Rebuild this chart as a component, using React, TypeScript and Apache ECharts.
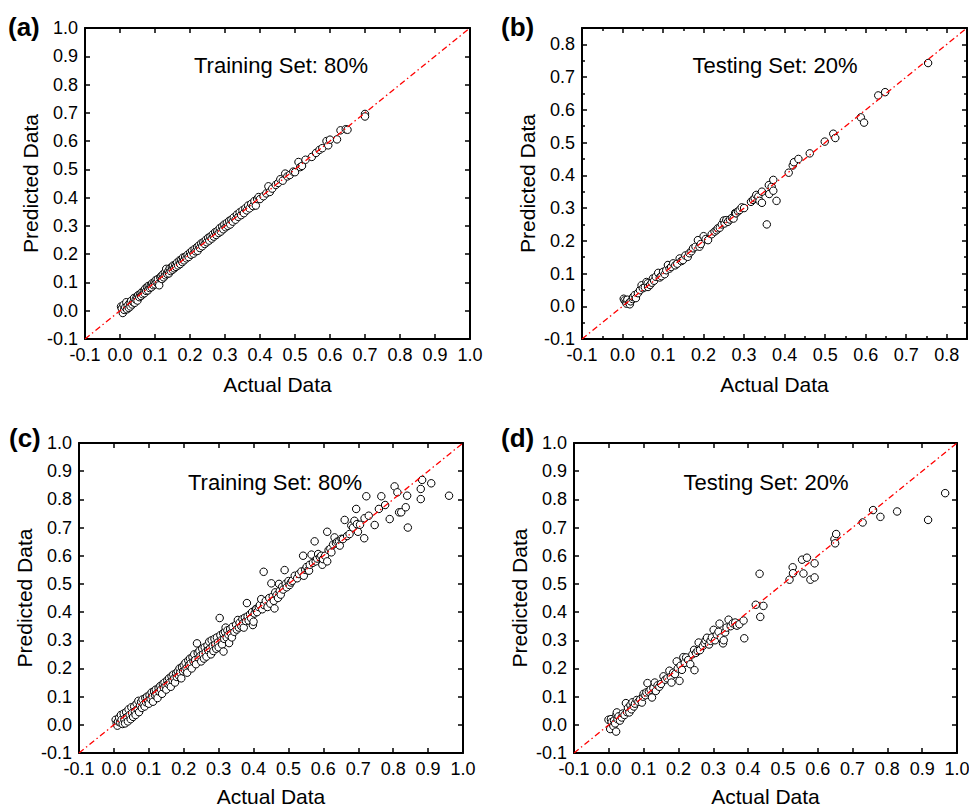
import React, { useEffect, useRef } from "react";
import * as echarts from "echarts";

// ---------- data ----------
const trainA: number[][] = [
  [0.003,0.015],[0.005,0.008],[0.008,-0.008],[0.01,0.02],[0.012,0.003],[0.015,0.012],[0.018,0.03],[0.02,0.005],[0.022,0.018],[0.025,0.01],
  [0.028,0.028],[0.03,0.015],[0.032,0.035],[0.035,0.022],[0.038,0.03],[0.04,0.045],[0.042,0.028],[0.045,0.04],[0.048,0.05],[0.05,0.036],
  [0.052,0.055],[0.055,0.048],[0.058,0.06],[0.06,0.052],[0.062,0.065],[0.065,0.058],[0.068,0.07],[0.07,0.062],[0.072,0.078],[0.075,0.07],
  [0.078,0.085],[0.08,0.072],[0.082,0.088],[0.085,0.08],[0.088,0.09],[0.09,0.083],[0.092,0.097],[0.095,0.09],[0.098,0.1],[0.1,0.093],
  [0.102,0.108],[0.105,0.1],[0.108,0.112],[0.11,0.095],[0.112,0.09],[0.115,0.118],[0.118,0.122],[0.12,0.112],[0.122,0.128],[0.125,0.118],
  [0.128,0.135],[0.13,0.125],[0.132,0.148],[0.135,0.13],[0.138,0.14],[0.14,0.132],[0.142,0.15],[0.145,0.14],[0.148,0.155],[0.15,0.145],
  [0.152,0.16],[0.155,0.15],[0.158,0.162],[0.16,0.155],[0.163,0.17],[0.166,0.16],[0.17,0.178],[0.172,0.165],[0.175,0.18],[0.178,0.172],
  [0.18,0.188],[0.183,0.178],[0.186,0.19],[0.19,0.185],[0.193,0.198],[0.196,0.19],[0.2,0.205],[0.203,0.198],[0.206,0.212],[0.21,0.202],
  [0.213,0.218],[0.216,0.21],[0.22,0.225],[0.222,0.212],[0.225,0.23],[0.228,0.222],[0.232,0.238],[0.235,0.228],[0.238,0.242],[0.242,0.236],
  [0.245,0.25],[0.248,0.242],[0.252,0.258],[0.255,0.248],[0.258,0.262],[0.262,0.255],[0.265,0.27],[0.268,0.262],[0.272,0.278],[0.275,0.268],
  [0.278,0.282],[0.282,0.275],[0.285,0.292],[0.288,0.28],[0.292,0.298],[0.295,0.288],[0.298,0.305],[0.302,0.295],[0.305,0.31],[0.308,0.3],
  [0.312,0.318],[0.315,0.305],[0.318,0.322],[0.322,0.315],[0.325,0.33],[0.33,0.322],[0.334,0.34],[0.338,0.332],[0.342,0.348],[0.346,0.338],
  [0.35,0.355],[0.354,0.345],[0.358,0.362],[0.362,0.355],[0.366,0.372],[0.37,0.362],[0.375,0.378],[0.38,0.37],[0.384,0.388],[0.388,0.372],
  [0.392,0.395],[0.396,0.402],[0.4,0.395],[0.41,0.405],[0.418,0.415],[0.424,0.44],[0.428,0.42],[0.435,0.432],[0.445,0.445],[0.452,0.452],
  [0.458,0.465],[0.465,0.46],[0.472,0.485],[0.478,0.475],[0.485,0.48],[0.495,0.492],[0.5,0.49],[0.51,0.526],[0.515,0.508],[0.52,0.512],
  [0.53,0.534],[0.548,0.544],[0.56,0.558],[0.57,0.569],[0.578,0.575],[0.59,0.6],[0.595,0.585],[0.6,0.605],[0.62,0.606],[0.63,0.638],
  [0.645,0.642],[0.65,0.64],[0.7,0.696],[0.7,0.687]
];

const testB: number[][] = [
  [0.003,0.023],[0.005,0.018],[0.008,0.013],[0.01,0.008],[0.012,0.02],[0.016,0.01],[0.018,0.006],[0.02,0.015],[0.025,0.022],[0.026,0.028],
  [0.03,0.034],[0.033,0.025],[0.038,0.04],[0.043,0.049],[0.047,0.064],[0.05,0.055],[0.055,0.058],[0.059,0.074],[0.062,0.07],[0.063,0.059],
  [0.068,0.065],[0.072,0.072],[0.075,0.085],[0.078,0.078],[0.082,0.09],[0.088,0.102],[0.092,0.088],[0.096,0.092],[0.1,0.105],[0.104,0.098],
  [0.108,0.11],[0.112,0.126],[0.116,0.115],[0.12,0.12],[0.125,0.131],[0.13,0.125],[0.135,0.13],[0.141,0.146],[0.145,0.138],[0.149,0.141],
  [0.155,0.155],[0.161,0.151],[0.165,0.162],[0.17,0.168],[0.174,0.177],[0.18,0.182],[0.186,0.202],[0.19,0.182],[0.193,0.19],[0.2,0.214],
  [0.205,0.205],[0.211,0.202],[0.22,0.22],[0.227,0.228],[0.232,0.232],[0.235,0.238],[0.24,0.24],[0.245,0.25],[0.25,0.262],[0.252,0.253],
  [0.256,0.263],[0.26,0.258],[0.265,0.265],[0.27,0.27],[0.274,0.268],[0.278,0.285],[0.28,0.284],[0.285,0.29],[0.289,0.294],[0.294,0.302],
  [0.3,0.3],[0.317,0.319],[0.322,0.325],[0.326,0.33],[0.33,0.34],[0.335,0.335],[0.338,0.322],[0.344,0.35],[0.344,0.316],[0.356,0.25],
  [0.361,0.37],[0.362,0.343],[0.368,0.365],[0.372,0.386],[0.372,0.353],[0.38,0.322],[0.41,0.408],[0.42,0.43],[0.423,0.44],[0.434,0.45],
  [0.462,0.467],[0.499,0.503],[0.52,0.527],[0.525,0.514],[0.588,0.577],[0.596,0.561],[0.631,0.644],[0.648,0.654],[0.754,0.743]
];

const trainC: number[][] = [
  [0.005,0.018],[0.008,0.005],[0.01,-0.003],[0.012,0.012],[0.015,0.025],[0.018,0.008],[0.02,0.035],[0.022,0.018],[0.025,0.003],[0.028,0.04],
  [0.03,0.02],[0.032,0.005],[0.035,0.045],[0.038,0.028],[0.04,0.012],[0.042,0.055],[0.045,0.035],[0.048,0.02],[0.05,0.062],[0.052,0.042],
  [0.055,0.028],[0.058,0.065],[0.06,0.048],[0.062,0.035],[0.065,0.075],[0.068,0.055],[0.07,0.085],[0.072,0.045],[0.075,0.068],[0.078,0.082],
  [0.08,0.06],[0.082,0.09],[0.085,0.072],[0.088,0.065],[0.09,0.095],[0.092,0.08],[0.095,0.1],[0.098,0.085],[0.1,0.075],[0.102,0.105],
  [0.105,0.092],[0.108,0.115],[0.11,0.1],[0.112,0.082],[0.115,0.12],[0.118,0.105],[0.12,0.125],[0.122,0.11],[0.125,0.095],[0.128,0.13],
  [0.13,0.118],[0.133,0.138],[0.135,0.125],[0.138,0.11],[0.14,0.145],[0.143,0.132],[0.145,0.15],[0.148,0.138],[0.15,0.125],[0.153,0.158],
  [0.156,0.145],[0.158,0.165],[0.16,0.15],[0.163,0.135],[0.165,0.172],[0.168,0.158],[0.17,0.178],[0.173,0.165],[0.175,0.15],[0.178,0.182],
  [0.18,0.17],[0.183,0.19],[0.186,0.175],[0.188,0.2],[0.19,0.185],[0.193,0.165],[0.195,0.205],[0.198,0.19],[0.2,0.212],[0.203,0.195],
  [0.205,0.22],[0.208,0.2],[0.21,0.185],[0.213,0.228],[0.215,0.212],[0.218,0.235],[0.22,0.218],[0.223,0.2],[0.225,0.24],[0.228,0.225],
  [0.23,0.25],[0.233,0.23],[0.235,0.215],[0.238,0.289],[0.24,0.255],[0.243,0.238],[0.245,0.262],[0.248,0.245],[0.25,0.225],[0.253,0.27],
  [0.255,0.25],[0.258,0.235],[0.26,0.275],[0.263,0.258],[0.265,0.242],[0.268,0.282],[0.27,0.265],[0.273,0.295],[0.275,0.27],[0.278,0.25],
  [0.28,0.3],[0.283,0.28],[0.285,0.262],[0.288,0.305],[0.29,0.285],[0.293,0.27],[0.295,0.31],[0.298,0.292],[0.3,0.275],[0.303,0.379],
  [0.305,0.318],[0.308,0.3],[0.31,0.285],[0.313,0.325],[0.314,0.26],[0.316,0.305],[0.318,0.33],[0.32,0.345],[0.323,0.31],[0.325,0.335],
  [0.328,0.32],[0.33,0.29],[0.333,0.34],[0.335,0.325],[0.338,0.31],[0.34,0.348],[0.345,0.33],[0.35,0.355],[0.352,0.338],[0.355,0.372],
  [0.358,0.345],[0.36,0.362],[0.365,0.35],[0.368,0.375],[0.37,0.36],[0.372,0.345],[0.375,0.38],[0.378,0.368],[0.381,0.432],[0.383,0.385],
  [0.386,0.37],[0.39,0.392],[0.393,0.378],[0.396,0.4],[0.398,0.354],[0.4,0.366],[0.403,0.395],[0.406,0.41],[0.408,0.411],[0.41,0.4],
  [0.415,0.418],[0.418,0.425],[0.422,0.446],[0.425,0.41],[0.429,0.543],[0.43,0.425],[0.435,0.44],[0.44,0.418],[0.445,0.45],[0.448,0.43],
  [0.451,0.502],[0.455,0.455],[0.458,0.44],[0.46,0.413],[0.462,0.47],[0.466,0.46],[0.47,0.45],[0.473,0.5],[0.475,0.475],[0.478,0.462],
  [0.482,0.49],[0.485,0.48],[0.489,0.549],[0.492,0.5],[0.495,0.488],[0.5,0.51],[0.503,0.496],[0.507,0.505],[0.511,0.511],[0.518,0.529],
  [0.525,0.52],[0.53,0.535],[0.537,0.544],[0.542,0.6],[0.544,0.529],[0.548,0.55],[0.552,0.56],[0.556,0.548],[0.559,0.547],[0.561,0.568],
  [0.566,0.604],[0.57,0.575],[0.575,0.651],[0.578,0.58],[0.582,0.59],[0.585,0.606],[0.59,0.595],[0.594,0.6],[0.597,0.568],[0.599,0.588],
  [0.605,0.6],[0.611,0.685],[0.611,0.58],[0.615,0.62],[0.62,0.625],[0.623,0.612],[0.628,0.64],[0.632,0.665],[0.636,0.645],[0.64,0.65],
  [0.645,0.651],[0.647,0.636],[0.652,0.66],[0.656,0.659],[0.661,0.727],[0.668,0.67],[0.675,0.677],[0.68,0.707],[0.685,0.7],[0.689,0.724],
  [0.694,0.766],[0.696,0.712],[0.699,0.685],[0.705,0.71],[0.717,0.662],[0.718,0.733],[0.723,0.811],[0.73,0.742],[0.747,0.709],[0.759,0.766],
  [0.766,0.811],[0.777,0.78],[0.79,0.73],[0.804,0.846],[0.812,0.825],[0.817,0.754],[0.823,0.754],[0.836,0.772],[0.84,0.813],[0.842,0.7],
  [0.879,0.801],[0.879,0.837],[0.883,0.869],[0.909,0.857],[0.96,0.813]
];

const testD: number[][] = [
  [-0.001,0.018],[0.004,-0.015],[0.006,0.02],[0.008,0.01],[0.013,-0.004],[0.015,0.015],[0.018,0.005],[0.021,-0.024],[0.022,0.035],[0.023,0.044],
  [0.025,0.02],[0.028,0.03],[0.032,0.015],[0.037,0.026],[0.04,0.04],[0.045,0.035],[0.049,0.077],[0.052,0.045],[0.055,0.06],[0.059,0.044],
  [0.062,0.07],[0.065,0.055],[0.068,0.08],[0.072,0.065],[0.075,0.075],[0.08,0.088],[0.085,0.082],[0.09,0.09],[0.095,0.079],[0.098,0.1],
  [0.1,0.11],[0.105,0.105],[0.108,0.115],[0.111,0.148],[0.115,0.118],[0.12,0.125],[0.124,0.097],[0.128,0.13],[0.132,0.15],[0.135,0.12],
  [0.14,0.14],[0.145,0.135],[0.15,0.145],[0.157,0.172],[0.162,0.16],[0.168,0.165],[0.174,0.192],[0.178,0.17],[0.18,0.15],[0.185,0.185],
  [0.19,0.18],[0.195,0.225],[0.198,0.2],[0.203,0.156],[0.206,0.21],[0.21,0.195],[0.214,0.24],[0.218,0.22],[0.222,0.239],[0.228,0.23],
  [0.234,0.215],[0.24,0.25],[0.245,0.266],[0.246,0.194],[0.25,0.255],[0.255,0.262],[0.258,0.292],[0.262,0.265],[0.27,0.28],[0.275,0.29],
  [0.278,0.3],[0.282,0.309],[0.288,0.285],[0.292,0.298],[0.296,0.31],[0.301,0.337],[0.305,0.3],[0.31,0.32],[0.315,0.33],[0.318,0.359],
  [0.322,0.31],[0.328,0.289],[0.33,0.3],[0.334,0.328],[0.338,0.345],[0.344,0.373],[0.35,0.35],[0.356,0.36],[0.363,0.363],[0.368,0.352],
  [0.375,0.357],[0.387,0.37],[0.389,0.307],[0.422,0.426],[0.433,0.536],[0.435,0.383],[0.444,0.422],[0.519,0.515],[0.528,0.559],[0.529,0.538],
  [0.555,0.586],[0.559,0.537],[0.569,0.593],[0.579,0.515],[0.591,0.573],[0.591,0.523],[0.648,0.659],[0.65,0.644],[0.653,0.677],[0.729,0.718],
  [0.759,0.762],[0.78,0.738],[0.828,0.757],[0.917,0.727],[0.966,0.822]
];

const panelLabels = ["(a)", "(b)", "(c)", "(d)"];
const setLabels = ["Training Set: 80%", "Testing Set: 20%", "Training Set: 80%", "Testing Set: 20%"];
const axisMax = [1.0, 0.85, 1.0, 1.0];
const axisMin = -0.1;
const xName = "Actual Data";
const yName = "Predicted Data";

// ---------- layout ----------
const grids = [
  { left: 85, top: 28, width: 385, height: 311 },
  { left: 582, top: 28, width: 385, height: 311 },
  { left: 79, top: 443, width: 384, height: 310 },
  { left: 574, top: 443, width: 383, height: 310 },
];
const labelPos = [
  [8, 27],
  [501, 27],
  [9, 438],
  [501, 438],
];
const setPos = [
  [281, 65],
  [775, 65],
  [275, 482],
  [766, 482],
];
const xNameGap = [35, 35, 33, 33];

const FONT = "'Liberation Sans', Arial, Helvetica, sans-serif";

const fmt = (v: number) => {
  const r = Math.round(v * 10);
  if (Math.abs(v * 10 - r) > 1e-6) return "";
  return (r / 10).toFixed(1);
};

export default function App() {
  const ref = useRef<HTMLDivElement>(null);
  useEffect(() => {
    if (!ref.current) return;
    const chart = echarts.init(ref.current, null, { renderer: "svg" });
    const datasets = [trainA, testB, trainC, testD];

    const xAxes: any[] = [];
    const yAxes: any[] = [];
    const series: any[] = [];
    const graphics: any[] = [];

    grids.forEach((g, i) => {
      const max = axisMax[i];
      const minor = i === 1;
      const lineStyle = { color: "#000", width: 2 };
      const tick = { show: true, inside: true, length: 5, lineStyle: { color: "#000", width: 1.5 } };
      const minorTick = { show: minor, splitNumber: 2, length: 3, lineStyle: { color: "#000", width: 1.5 } };
      const label = {
        show: true,
        color: "#000",
        fontSize: 18,
        fontFamily: FONT,
        formatter: fmt,
        margin: 7,
        showMinLabel: true,
        showMaxLabel: true,
      };
      const common = {
        type: "value",
        gridIndex: i,
        min: axisMin,
        max,
        interval: 0.1,
        splitLine: { show: false },
        axisLine: { show: true, onZero: false, lineStyle },
        axisTick: tick,
        minorTick,
      };
      xAxes.push({
        ...common,
        position: "bottom",
        axisLabel: label,
        name: xName,
        nameLocation: "middle",
        nameGap: xNameGap[i],
        nameTextStyle: { color: "#000", fontSize: 21, fontFamily: FONT },
      });
      xAxes.push({ ...common, position: "top", axisLabel: { show: false } });
      yAxes.push({
        ...common,
        position: "left",
        axisLabel: label,
        name: yName,
        nameLocation: "middle",
        nameGap: 44,
        nameRotate: 90,
        nameTextStyle: { color: "#000", fontSize: 21, fontFamily: FONT },
      });
      yAxes.push({ ...common, position: "right", axisLabel: { show: false } });

      series.push({
        type: "scatter",
        xAxisIndex: i * 2,
        yAxisIndex: i * 2,
        data: datasets[i],
        symbol: "circle",
        symbolSize: 7.5,
        itemStyle: { color: "#fff", borderColor: "#000", borderWidth: 1, opacity: 1 },
        z: 2,
      });
      series.push({
        type: "line",
        xAxisIndex: i * 2,
        yAxisIndex: i * 2,
        data: [
          [axisMin, axisMin],
          [max, max],
        ],
        symbol: "none",
        lineStyle: { color: "#ff0000", width: 1.3, type: [6, 3, 1.5, 3] },
        z: 3,
        silent: true,
      });

      graphics.push({
        type: "text",
        x: labelPos[i][0],
        y: labelPos[i][1],
        style: {
          text: panelLabels[i],
          font: `bold 26px ${FONT}`,
          fill: "#000",
          textAlign: "left",
          textVerticalAlign: "middle",
          align: "left",
          verticalAlign: "middle",
        },
      });
      graphics.push({
        type: "text",
        x: setPos[i][0],
        y: setPos[i][1],
        style: {
          text: setLabels[i],
          font: `22px ${FONT}`,
          fill: "#000",
          textAlign: "center",
          textVerticalAlign: "middle",
          align: "center",
          verticalAlign: "middle",
        },
      });
    });

    chart.setOption({
      animation: false,
      backgroundColor: "#fff",
      textStyle: { fontFamily: FONT },
      grid: grids.map((g) => ({ ...g, containLabel: false, outerBoundsMode: "none" })),
      xAxis: xAxes,
      yAxis: yAxes,
      series,
      graphic: graphics,
    });
    return () => chart.dispose();
  }, []);

  return (
    <div
      ref={ref}
      style={{ position: "fixed", left: 0, top: 0, width: 969, height: 807, background: "#fff" }}
    />
  );
}
